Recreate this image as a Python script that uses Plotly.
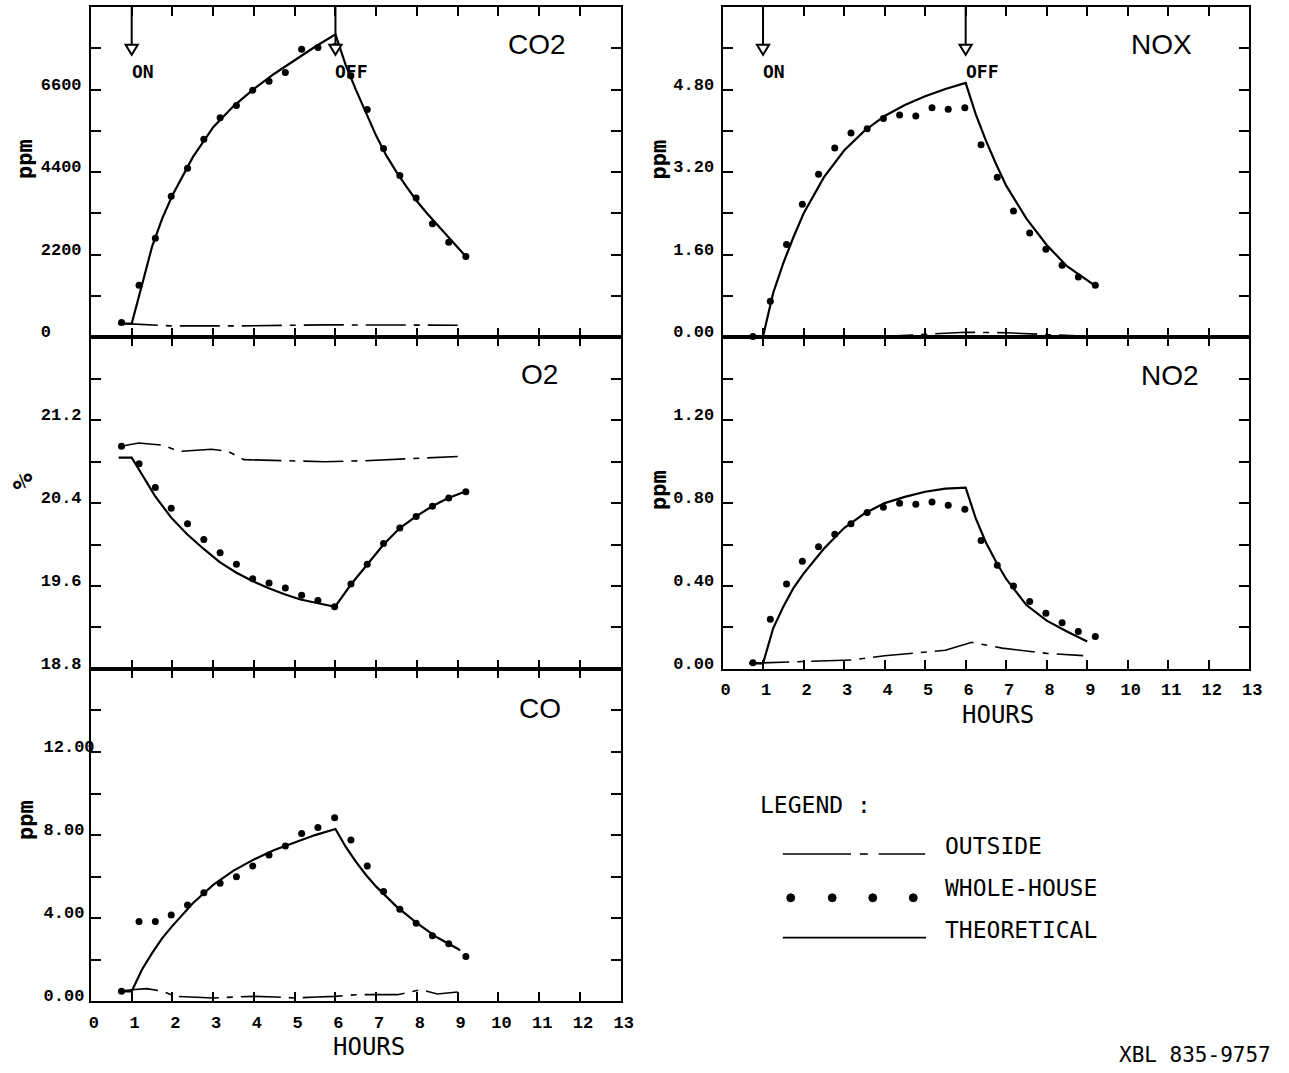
import plotly.graph_objects as go

W, H = 1289, 1073

# ---------------------------------------------------------------- data
HOUR_TICKS = list(range(14))

# whole-house sampling times (hours), shared by all five species
DOT_HOURS = [0.75, 1.18, 1.58, 1.97, 2.37, 2.77, 3.17, 3.57, 3.97, 4.37, 4.77,
             5.17, 5.57, 5.98, 6.38, 6.78, 7.18, 7.58, 7.98, 8.38, 8.78, 9.2]

# CO2 (ppm)
CO2_HOUSE = [396, 1390, 2640, 3758, 4506, 5280, 5852, 6178, 6582, 6820, 7058,
             7674, 7718, 7744, 6970, 6072, 5034, 4312, 3714, 3027, 2534, 2156]
CO2_THEORY_H = [0.68, 1.0, 1.25, 1.5, 1.75, 2.0, 2.5, 3.0, 3.5, 4.0, 4.5, 5.0, 5.5, 6.0,
                6.25, 6.5, 6.75, 7.0, 7.25, 7.5, 7.75, 8.0, 8.25, 8.5, 8.75, 9.0, 9.2]
CO2_THEORY = [370, 370, 1390, 2420, 3170, 3784, 4800, 5600, 6160, 6618, 7022, 7392, 7740, 8070,
              7260, 6600, 5984, 5368, 4840, 4400, 4004, 3626, 3300, 2992, 2684, 2394, 2156]
CO2_OUT_H = [0.66, 0.97, 1.97, 3.75, 5.74, 6.73, 7.73, 9.0]
CO2_OUT = [370, 360, 308, 308, 334, 334, 326, 326]

# O2 (%)
O2_HOUSE = [20.95, 20.78, 20.55, 20.35, 20.20, 20.05, 19.92, 19.81, 19.67, 19.63, 19.58,
            19.51, 19.46, 19.40, 19.62, 19.81, 20.01, 20.16, 20.27, 20.37, 20.45, 20.51]
O2_THEORY_H = [0.68, 1.0, 1.17, 1.57, 1.97, 2.36, 2.76, 3.16, 3.56, 3.95, 4.35, 4.75,
               5.14, 5.54, 5.99, 6.39, 6.78, 7.18, 7.58, 7.97, 8.37, 8.77, 9.17]
O2_THEORY = [20.84, 20.84, 20.73, 20.47, 20.26, 20.10, 19.96, 19.83, 19.73, 19.65, 19.58, 19.52,
             19.47, 19.44, 19.40, 19.62, 19.81, 20.00, 20.16, 20.27, 20.37, 20.45, 20.51]
O2_OUT_H = [0.74, 1.17, 1.77, 2.16, 2.96, 3.36, 3.75, 4.75, 5.74, 6.73, 7.73, 9.0]
O2_OUT = [20.95, 20.98, 20.96, 20.90, 20.92, 20.90, 20.82, 20.81, 20.80, 20.81, 20.83, 20.85]

# CO (ppm)
CO_HOUSE = [0.48, 3.84, 3.84, 4.16, 4.64, 5.23, 5.68, 6.00, 6.51, 7.04, 7.47,
            8.08, 8.37, 8.83, 7.76, 6.51, 5.28, 4.43, 3.76, 3.15, 2.77, 2.16]
CO_THEORY_H = [0.67, 1.0, 1.25, 1.5, 1.75, 2.0, 2.5, 3.0, 3.5, 4.0, 4.5, 5.0, 5.5, 6.0,
               6.25, 6.5, 6.75, 7.0, 7.5, 8.0, 8.5, 9.0, 9.06]
CO_THEORY = [0.48, 0.48, 1.52, 2.32, 3.04, 3.63, 4.72, 5.60, 6.29, 6.83, 7.28, 7.65, 8.00, 8.29,
             7.44, 6.72, 6.08, 5.52, 4.56, 3.76, 3.07, 2.53, 2.45]
CO_OUT_H = [0.67, 1.0, 1.37, 1.77, 2.06, 2.56, 3.0, 3.55, 4.0, 4.54, 5.0, 5.54, 6.0,
            6.53, 7.0, 7.52, 8.1, 8.5, 9.0]
CO_OUT = [0.48, 0.56, 0.61, 0.48, 0.24, 0.21, 0.16, 0.21, 0.24, 0.21, 0.16, 0.21, 0.24,
          0.32, 0.32, 0.32, 0.56, 0.35, 0.45]

# NOX (ppm)
NOX_HOUSE = [0.02, 0.70, 1.80, 2.58, 3.16, 3.67, 3.96, 4.04, 4.24, 4.31, 4.29,
             4.45, 4.42, 4.45, 3.73, 3.10, 2.45, 2.02, 1.71, 1.40, 1.17, 1.01]
NOX_THEORY_H = [0.66, 1.0, 1.25, 1.5, 1.75, 2.0, 2.5, 3.0, 3.5, 4.0, 4.5, 5.0, 5.5, 6.0,
                6.25, 6.5, 6.75, 7.0, 7.5, 8.0, 8.5, 9.0, 9.2]
NOX_THEORY = [0.02, 0.02, 0.86, 1.44, 1.94, 2.40, 3.10, 3.62, 4.00, 4.29, 4.50, 4.67, 4.81, 4.93,
              4.32, 3.81, 3.36, 2.94, 2.30, 1.79, 1.38, 1.10, 1.00]
NOX_OUT_H = [0.66, 2.0, 3.0, 4.0, 5.0, 6.0, 7.0, 8.0, 9.0]
NOX_OUT = [0.02, 0.01, 0.01, 0.02, 0.06, 0.10, 0.09, 0.06, 0.02]

# NO2 (ppm)
NO2_HOUSE = [0.03, 0.24, 0.41, 0.52, 0.59, 0.65, 0.70, 0.755, 0.78, 0.80, 0.795,
             0.806, 0.79, 0.77, 0.62, 0.50, 0.40, 0.325, 0.268, 0.223, 0.18, 0.156]
NO2_THEORY_H = [0.66, 1.0, 1.25, 1.5, 1.75, 2.0, 2.5, 3.0, 3.5, 4.0, 4.5, 5.0, 5.5, 6.0,
                6.25, 6.5, 6.75, 7.0, 7.5, 8.0, 8.5, 9.0]
NO2_THEORY = [0.027, 0.027, 0.196, 0.30, 0.39, 0.46, 0.58, 0.68, 0.75, 0.80, 0.83, 0.855, 0.87,
              0.875, 0.726, 0.61, 0.517, 0.434, 0.308, 0.233, 0.18, 0.132]
NO2_OUT_H = [0.66, 2.0, 3.18, 4.0, 5.0, 5.5, 6.15, 6.9, 8.0, 8.9]
NO2_OUT = [0.027, 0.035, 0.043, 0.063, 0.083, 0.09, 0.128, 0.10, 0.075, 0.064]

# y-axis tick positions and labels per panel
CO2_TICKS = [0, 1100, 2200, 3300, 4400, 5500, 6600, 7700, 8800]
CO2_LABELS = ["0", "", "2200", "", "4400", "", "6600", "", ""]
O2_TICKS = [18.8, 19.2, 19.6, 20.0, 20.4, 20.8, 21.2, 21.6, 22.0]
O2_LABELS = ["18.8", "", "19.6", "", "20.4", "", "21.2", "", ""]
CO_TICKS = [0, 2, 4, 6, 8, 10, 12, 14, 16]
CO_LABELS = ["0.00", "", "4.00", "", "8.00", "", "12.00", "", ""]
NOX_TICKS = [0, 0.8, 1.6, 2.4, 3.2, 4.0, 4.8, 5.6, 6.4]
NOX_LABELS = ["0.00", "", "1.60", "", "3.20", "", "4.80", "", ""]
NO2_TICKS = [0, 0.2, 0.4, 0.6, 0.8, 1.0, 1.2, 1.4, 1.6]
NO2_LABELS = ["0.00", "", "0.40", "", "0.80", "", "1.20", "", ""]

# furnace switched on / off (hours)
EVENTS = [(1, "ON"), (6, "OFF")]

LEGEND_ITEMS = ["OUTSIDE", "WHOLE-HOUSE", "THEORETICAL"]

# ---------------------------------------------------------------- helpers
def px(x):
    return x / W


def py(y):
    return 1 - y / H


NB = "\u00a0"
TICK_FONT = dict(family="Liberation Mono", size=17, color="black", weight="bold")
OUT_DASH = "40px,8px,6px,8px"

LEFT_X = [px(90), px(626)]
RIGHT_X = [px(729), px(1262)]
ROW1 = [py(339), py(7)]
ROW2 = [py(672), py(339)]
ROW3 = [py(1006), py(672)]


def pad_left_aligned(labels):
    width = max(len(s) for s in labels)
    return [s + NB * (width - len(s)) if s else "" for s in labels]


panels = [
    dict(k="", xd=LEFT_X, yd=ROW1, ticks=CO2_TICKS, labels=CO2_LABELS, standoff=4,
         house=CO2_HOUSE, th=CO2_THEORY_H, tv=CO2_THEORY, oh=CO2_OUT_H, ov=CO2_OUT,
         xlabels=False),
    dict(k="2", xd=LEFT_X, yd=ROW2, ticks=O2_TICKS, labels=O2_LABELS, standoff=4,
         house=O2_HOUSE, th=O2_THEORY_H, tv=O2_THEORY, oh=O2_OUT_H, ov=O2_OUT,
         xlabels=False),
    dict(k="3", xd=LEFT_X, yd=ROW3, ticks=CO_TICKS, labels=CO_LABELS, standoff=-9,
         house=CO_HOUSE, th=CO_THEORY_H, tv=CO_THEORY, oh=CO_OUT_H, ov=CO_OUT,
         xlabels=True),
    dict(k="4", xd=RIGHT_X, yd=ROW1, ticks=NOX_TICKS, labels=NOX_LABELS, standoff=3,
         house=NOX_HOUSE, th=NOX_THEORY_H, tv=NOX_THEORY, oh=NOX_OUT_H, ov=NOX_OUT,
         xlabels=False),
    dict(k="5", xd=RIGHT_X, yd=ROW2, ticks=NO2_TICKS, labels=NO2_LABELS, standoff=3,
         house=NO2_HOUSE, th=NO2_THEORY_H, tv=NO2_THEORY, oh=NO2_OUT_H, ov=NO2_OUT,
         xlabels=True),
]

fig = go.Figure()
layout = dict(
    width=W, height=H, margin=dict(l=0, r=0, t=0, b=0),
    paper_bgcolor="white", plot_bgcolor="white", showlegend=False,
)

for p in panels:
    xa, ya = "x" + p["k"], "y" + p["k"]
    fig.add_trace(go.Scatter(x=p["oh"], y=p["ov"], mode="lines", xaxis=xa, yaxis=ya,
                             line=dict(color="black", width=1.6, dash=OUT_DASH)))
    fig.add_trace(go.Scatter(x=p["th"], y=p["tv"], mode="lines", xaxis=xa, yaxis=ya,
                             line=dict(color="black", width=2.2)))
    fig.add_trace(go.Scatter(x=DOT_HOURS, y=p["house"], mode="markers", xaxis=xa, yaxis=ya,
                             marker=dict(color="black", size=7), cliponaxis=False))

    layout["xaxis" + p["k"]] = dict(
        domain=p["xd"], anchor=ya, range=[0, 13], tickmode="array", tickvals=HOUR_TICKS,
        ticktext=[str(h) for h in HOUR_TICKS], showticklabels=p["xlabels"],
        ticks="inside", ticklen=9, tickwidth=2, tickcolor="black",
        showline=True, linewidth=2, linecolor="black", mirror="ticks",
        showgrid=False, zeroline=False, tickfont=TICK_FONT,
        ticklabelstandoff=4, ticklabelshift=3,
    )
    layout["yaxis" + p["k"]] = dict(
        domain=p["yd"], anchor=xa, range=[p["ticks"][0], p["ticks"][-1]],
        tickmode="array", tickvals=p["ticks"], ticktext=pad_left_aligned(p["labels"]),
        ticks="inside", ticklen=10, tickwidth=2, tickcolor="black",
        showline=True, linewidth=2, linecolor="black", mirror="ticks",
        showgrid=False, zeroline=False, tickfont=TICK_FONT,
        ticklabelstandoff=p["standoff"], ticklabelshift=-6,
    )

shapes = []
annotations = []

# ON / OFF arrows in the two top panels
for xa, ya in [("x", "y"), ("x4", "y4")]:
    for hour, text in EVENTS:
        shapes.append(dict(type="line", xref=xa, yref=ya + " domain", x0=hour, x1=hour,
                           y0=1.0, y1=0.886, line=dict(color="black", width=2)))
        shapes.append(dict(type="path", xref=xa, yref=ya + " domain",
                           path=f"M {hour - 0.15},0.886 L {hour + 0.15},0.886 L {hour},0.855 Z",
                           fillcolor="white", line=dict(color="black", width=2)))
        annotations.append(dict(xref=xa, yref=ya + " domain", x=hour, y=0.806, text=text,
                                showarrow=False, xanchor="left", yanchor="middle", xshift=-2,
                                font=dict(family="DejaVu Sans Mono", size=18, weight="bold",
                                          color="black")))

# species names
TITLE_FONT = dict(family="Liberation Sans", size=28, color="black")
for text, cx, cy in [("CO2", 541, 45), ("O2", 544, 376), ("CO", 544, 712),
                     ("NOX", 1173, 45), ("NO2", 1182, 377)]:
    annotations.append(dict(xref="paper", yref="paper", x=px(cx), y=py(cy), text=text,
                            showarrow=False, xanchor="center", yanchor="middle", font=TITLE_FONT))

# unit labels
UNIT_FONT = dict(family="DejaVu Sans Mono", size=22, weight="bold", color="black")
for text, cx, cy, size in [("ppm", 23, 160, 22), ("%", 21, 483, 27), ("ppm", 23, 824, 22),
                           ("ppm", 664, 160, 22), ("ppm", 664, 492, 22)]:
    annotations.append(dict(xref="paper", yref="paper", x=px(cx), y=py(cy), text=text,
                            textangle=-90, showarrow=False, xanchor="center", yanchor="middle",
                            font={**UNIT_FONT, "size": size}))

# x-axis titles
HOURS_FONT = dict(family="DejaVu Sans Mono", size=24, color="black")
for cx, cy in [(371, 1052), (1008, 718)]:
    annotations.append(dict(xref="paper", yref="paper", x=px(cx), y=py(cy), text="HOURS",
                            showarrow=False, xanchor="center", yanchor="middle", font=HOURS_FONT))

# legend block
LEG_FONT = dict(family="DejaVu Sans Mono", size=23, color="black")
annotations.append(dict(xref="paper", yref="paper", x=px(765), y=py(809), text="LEGEND :",
                        showarrow=False, xanchor="left", yanchor="middle", font=LEG_FONT))
for text, cy in zip(LEGEND_ITEMS, [850, 892, 934]):
    annotations.append(dict(xref="paper", yref="paper", x=px(952), y=py(cy), text=text,
                            showarrow=False, xanchor="left", yanchor="middle", font=LEG_FONT))

for x0, x1 in [(790, 859), (868, 876), (887, 934)]:
    shapes.append(dict(type="line", xref="paper", yref="paper", x0=px(x0), x1=px(x1),
                       y0=py(858), y1=py(858), line=dict(color="black", width=1.6)))
for cx in [798, 840, 881, 922]:
    shapes.append(dict(type="circle", xref="paper", yref="paper", x0=px(cx - 4), x1=px(cx + 4),
                       y0=py(902 + 4), y1=py(902 - 4), fillcolor="black",
                       line=dict(color="black", width=1)))
shapes.append(dict(type="line", xref="paper", yref="paper", x0=px(790), x1=px(935),
                   y0=py(942), y1=py(942), line=dict(color="black", width=1.6)))

# drawing number (kept inside the page's right edge)
annotations.append(dict(xref="paper", yref="paper", x=px(1286), y=py(1060), text="XBL 835-9757",
                        showarrow=False, xanchor="right", yanchor="middle",
                        font=dict(family="DejaVu Sans Mono", size=21, color="black")))

layout["shapes"] = shapes
layout["annotations"] = annotations
fig.update_layout(**layout)

# page = figure: no body margin, no scrollbars
PAGE_FIT = ("document.documentElement.style.overflow='hidden';"
            "document.body.style.margin='0';document.body.style.overflow='hidden';")
fig.write_html("out.html", post_script=PAGE_FIT)
